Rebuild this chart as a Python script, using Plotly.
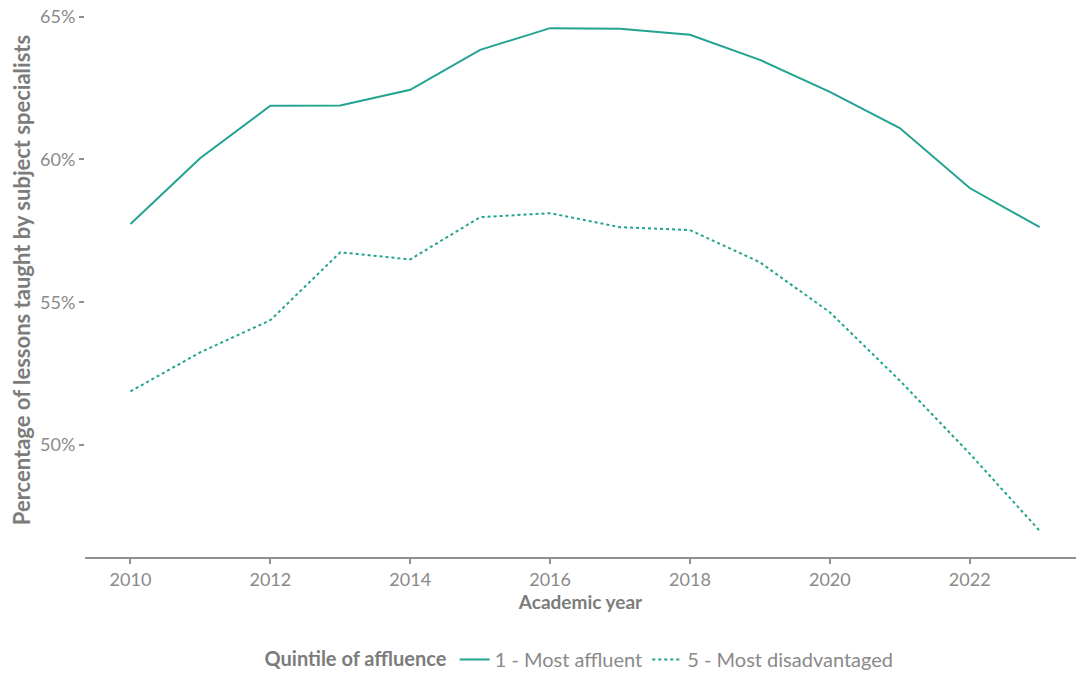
import plotly.graph_objects as go

years = list(range(2010, 2024))
most_affluent = [57.74, 60.05, 61.88, 61.89, 62.44, 63.84, 64.60, 64.58, 64.37, 63.49, 62.37, 61.10, 59.00, 57.63]
most_disadvantaged = [51.88, 53.25, 54.37, 56.75, 56.50, 57.98, 58.12, 57.63, 57.53, 56.40, 54.65, 52.26, 49.70, 47.00]
series_names = ["1 - Most affluent", "5 - Most disadvantaged"]
y_ticks = [50, 55, 60, 65]
x_ticks = [2010, 2012, 2014, 2016, 2018, 2020, 2022]

teal = "#22a38f"
grey_tick = "#8a8a8a"
grey_title = "#7c7c7c"
font_family = "Source Sans Pro, Lato, sans-serif"

fig = go.Figure()
fig.add_trace(go.Scatter(x=years, y=most_affluent, mode="lines", name=series_names[0],
                         line=dict(color=teal, width=2, dash="solid")))
fig.add_trace(go.Scatter(x=years, y=most_disadvantaged, mode="lines", name=series_names[1],
                         line=dict(color=teal, width=2, dash="dot")))

fig.update_layout(
    width=1078, height=675,
    margin=dict(l=85, r=2, t=3, b=118, autoexpand=False),
    plot_bgcolor="white", paper_bgcolor="white",
    font=dict(family=font_family, size=18, color=grey_tick),
    showlegend=True,
    legend=dict(orientation="h", x=0.5, xanchor="center", y=-0.185, yanchor="middle",
                title=dict(text="<b>Quintile of affluence</b>", font=dict(color=grey_title, size=20)),
                font=dict(size=20, color=grey_tick)),
    xaxis=dict(range=[2009.35, 2023.52], tickvals=x_ticks, ticktext=[str(v) for v in x_ticks],
               showgrid=False, zeroline=False, showline=True, linecolor="#8f8f8f", linewidth=2,
               ticks="outside", ticklen=5, tickcolor="#8f8f8f", tickwidth=1.5, automargin=False,
               tickfont=dict(size=18, color=grey_tick),
               title=dict(text="<b>Academic year</b>", font=dict(size=19, color=grey_title), standoff=0)),
    yaxis=dict(range=[46.08, 65.48], tickvals=y_ticks, ticktext=[f"{v}%" for v in y_ticks],
               showgrid=False, zeroline=False, showline=False, automargin=False,
               ticks="outside", ticklen=5, tickcolor="#8f8f8f", tickwidth=1.5,
               tickfont=dict(size=18, color=grey_tick),
               title=dict(text="<b>Percentage of lessons taught by subject specialists</b>",
                          font=dict(size=22, color=grey_title), standoff=3)),
)

fig.write_html("out.html", post_script="document.body.style.margin='0';",
               config={"displayModeBar": False})
